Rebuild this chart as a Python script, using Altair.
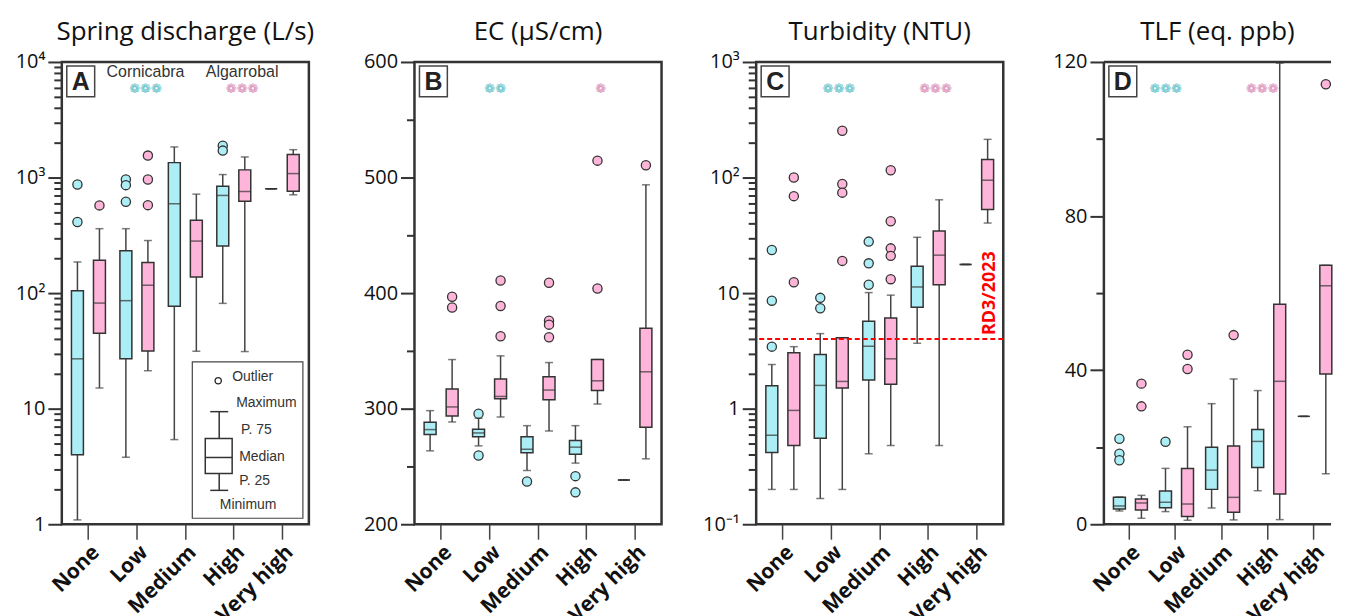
import altair as alt
import pandas as pd

CATS = ["None", "Low", "Medium", "High", "Very high"]
GROUPS = ["Cornicabra", "Algarrobal"]
CYAN = "#abeef5"
PINK = "#ffb5d9"

# ---- Panel A: spring discharge (L/s) ----
A_CORN_MIN = [1.09, 3.8, 5.4, 81.5, 799]
A_CORN_Q1 = [4.0, 27, 77, 256, 799]
A_CORN_MED = [27, 86, 593, 700, 799]
A_CORN_Q3 = [105, 232, 1346, 841, 799]
A_CORN_MAX = [186, 361, 1840, 1061, 799]
A_CORN_OUT = [[870, 412], [961, 859, 617], [], [1888, 1710], []]
A_ALG_MIN = [15.1, 21.3, 31.4, 31.2, 709]
A_ALG_Q1 = [45, 31.6, 138, 625, 762]
A_ALG_MED = [82, 117, 282, 757, 1082]
A_ALG_Q3 = [192, 184, 426, 1165, 1586]
A_ALG_MAX = [361, 285, 718, 1507, 1742]
A_ALG_OUT = [[574], [1549, 961, 577], [], [], []]

# ---- Panel B: EC (uS/cm) ----
B_CORN_MIN = [263.5, 267.8, 246.5, 252.9, 238.2]
B_CORN_Q1 = [277.6, 275.6, 261.8, 260.6, 238.2]
B_CORN_MED = [281.9, 279.0, 264.9, 266.7, 238.2]
B_CORN_Q3 = [288.2, 282.2, 275.6, 272.4, 238.2]
B_CORN_MAX = [298.3, 291.7, 285.3, 285.3, 238.2]
B_CORN_OUT = [[], [295.7, 259.5], [237.0], [241.6, 227.6], []]
B_ALG_MIN = [288.5, 292.8, 280.7, 304.0, 256.6]
B_ALG_Q1 = [293.7, 308.6, 307.8, 315.8, 283.9]
B_ALG_MED = [301.5, 310.6, 316.1, 324.1, 331.9]
B_ALG_Q3 = [317.0, 325.6, 327.6, 342.5, 369.5]
B_ALG_MAX = [342.5, 345.7, 339.9, 342.5, 493.7]
B_ALG_OUT = [[396.8, 387.6], [410.9, 388.8, 362.7], [408.9, 376.1, 372.7, 361.8], [514.6, 404.0], [510.6]]

# ---- Panel C: turbidity (NTU) ----
C_CORN_MIN = [0.2, 0.167, 0.407, 3.68, 17.7]
C_CORN_Q1 = [0.418, 0.555, 1.77, 7.53, 17.7]
C_CORN_MED = [0.589, 1.59, 3.47, 11.3, 17.7]
C_CORN_Q3 = [1.58, 2.94, 5.7, 17.1, 17.7]
C_CORN_MAX = [2.41, 4.46, 10.1, 30.4, 17.7]
C_CORN_OUT = [[23.6, 8.6, 3.44], [9.1, 7.4], [27.9, 18.1, 11.8], [], []]
C_ALG_MIN = [0.2, 0.2, 0.48, 0.48, 40.4]
C_ALG_Q1 = [0.48, 1.51, 1.63, 11.8, 53]
C_ALG_MED = [0.966, 1.72, 2.7, 21.3, 94.8]
C_ALG_Q3 = [3.04, 4.1, 6.1, 34.5, 143]
C_ALG_MAX = [3.44, 4.1, 9.6, 64.2, 214]
C_ALG_OUT = [[100, 69, 12.4], [254, 88, 74, 19], [115.6, 41.8, 24.4, 21, 13.2], [], []]
C_THRESHOLD = [4]

# ---- Panel D: TLF (eq. ppb) ----
D_CORN_MIN = [3.45, 3.28, 4.22, 8.7, 28.0]
D_CORN_Q1 = [3.97, 4.3, 9.05, 14.7, 28.0]
D_CORN_MED = [4.74, 5.7, 14.05, 21.5, 28.0]
D_CORN_Q3 = [7.0, 8.6, 20.0, 24.6, 28.0]
D_CORN_MAX = [7.06, 14.5, 31.3, 34.7, 28.0]
D_CORN_OUT = [[22.2, 18.3, 16.6], [21.4], [], [], []]
D_ALG_MIN = [1.55, 1.03, 1.12, 1.2, 13.1]
D_ALG_Q1 = [3.71, 1.98, 3.1, 7.84, 39.0]
D_ALG_MED = [5.52, 5.25, 6.98, 37.1, 61.9]
D_ALG_Q3 = [6.55, 14.5, 20.3, 57.1, 67.2]
D_ALG_MAX = [7.5, 25.3, 37.7, 119.7, 67.2]
D_ALG_OUT = [[36.5, 30.6], [44.0, 40.3], [49.1], [], [114.2]]

W, H = 248, 464
WD = 228
ONE = pd.DataFrame({"k": [0]})
FRAME = "#333"


def log_values(lo_exp, hi_exp):
    vals = []
    for e in range(lo_exp, hi_exp):
        for k in range(1, 10):
            vals.append(round(k * 10 ** e, 6))
    vals.append(round(10 ** hi_exp, 6))
    return vals


def make_panel(title, letter, corn, alg, scale, values, majors, label_map,
               stars, extra=None, width=W, xrange=None, open_right=False):
    rows, orows = [], []
    for g, st in ((GROUPS[0], corn), (GROUPS[1], alg)):
        mn, q1, md, q3, mx, outs = st
        for i, c in enumerate(CATS):
            rows.append({"cat": c, "grp": g, "lo": mn[i], "q1": q1[i],
                         "med": md[i], "q3": q3[i], "hi": mx[i]})
            for v in outs[i]:
                orows.append({"cat": c, "grp": g, "val": v})
    df = pd.DataFrame(rows)
    odf = pd.DataFrame(orows)

    major_arr = "[" + ",".join(repr(m) for m in majors) + "]"
    expr = ""
    for m, lab in label_map:
        expr += f"datum.value=={m!r}?'{lab}':"
    expr += "''"
    yaxis = alt.Axis(values=values, labelExpr=expr, labelOverlap=False,
                     tickSize={"condition": {"test": f"indexof({major_arr}, datum.value) >= 0",
                                             "value": 14}, "value": 8},
                     tickWidth=2, tickColor="#333", domain=False, grid=False,
                     labelFont="Open Sans", labelFontSize=20, labelColor="#111",
                     labelPadding=3, title=None)

    def Y(field):
        return alt.Y(f"{field}:Q", scale=scale, axis=yaxis, title=None)

    xs = dict(paddingInner=0, paddingOuter=0.05)
    if xrange:
        xs["range"] = xrange
    X = alt.X("cat:N", sort=CATS,
              scale=alt.Scale(**xs),
              axis=alt.Axis(title=None, labelAngle=315, labelAlign="right",
                            labelBaseline="top", labelFont="Open Sans",
                            labelFontWeight="bold", labelFontSize=21,
                            labelColor="#111", labelPadding=2, tickSize=15,
                            tickColor="#444", tickWidth=1.5, domain=False,
                            grid=False))
    XO = alt.XOffset("grp:N", sort=GROUPS,
                     scale=alt.Scale(paddingOuter=0.1, paddingInner=0))
    col = alt.Color("grp:N", scale=alt.Scale(domain=GROUPS, range=[CYAN, PINK]), legend=None)
    fil = alt.Fill("grp:N", scale=alt.Scale(domain=GROUPS, range=[CYAN, PINK]), legend=None)

    base = alt.Chart(df).encode(x=X, xOffset=XO)
    layers = [
        base.mark_rule(color="#444", strokeWidth=1.5).encode(y=Y("lo"), y2="hi"),
        base.mark_tick(color="#444", thickness=1.5, size=8).encode(y=Y("lo")),
        base.mark_tick(color="#444", thickness=1.5, size=8).encode(y=Y("hi")),
        base.mark_bar(size=12, stroke="#333", strokeWidth=1.5).encode(y=Y("q1"), y2="q3", color=col),
        base.mark_tick(color="#333", thickness=1.5, size=12).encode(y=Y("med")),
        alt.Chart(odf).mark_point(shape="circle", filled=True, size=85, stroke="#333",
                                  strokeWidth=1.3, opacity=1).encode(
            x=X, xOffset=XO, y=Y("val"), fill=fil),
    ]
    if extra:
        layers += extra(Y)
    if open_right:
        for x1, x2, y1, y2 in ((0, width, 0, 0), (0, width, H, H), (0, 0, 0, H)):
            layers.append(alt.Chart(ONE).mark_rule(color=FRAME, strokeWidth=2.5).encode(
                x=alt.value(x1), x2=alt.value(x2), y=alt.value(y1), y2=alt.value(y2)))
    # panel letter
    layers.append(alt.Chart(ONE).mark_rect(fill="white", stroke="#444", strokeWidth=1.5).encode(
        x=alt.value(5), x2=alt.value(33), y=alt.value(4), y2=alt.value(35)))
    layers.append(alt.Chart(ONE).mark_text(text=letter, font="Liberation Sans", fontWeight="bold",
                                           fontSize=25, align="center", baseline="middle",
                                           color="#222").encode(
        x=alt.value(19), y=alt.value(20.5)))
    for txt, colr, px in stars:
        layers.append(alt.Chart(ONE).mark_text(text=txt, color=colr, fontSize=13,
                                               font="DejaVu Sans", align="center",
                                               baseline="middle").encode(
            x=alt.value(px), y=alt.value(27)))
    props = dict(width=width, height=H,
                 title=alt.TitleParams(title, fontSize=26, font="Open Sans", fontWeight="normal",
                                       color="#111", offset=7, frame="group"))
    if open_right:
        props["view"] = alt.ViewBackground(strokeWidth=0)
    return alt.layer(*layers).properties(**props)


STAR_C = "#5bbfc9"
STAR_P = "#d98ab5"
SYM = "\u2741"


def legend_A(Y):
    t = "#333"
    L = []
    L.append(alt.Chart(ONE).mark_text(text="Cornicabra", font="Liberation Sans", fontSize=16,
                                      color=t, align="center", baseline="middle").encode(
        x=alt.value(84), y=alt.value(10)))
    L.append(alt.Chart(ONE).mark_text(text="Algarrobal", font="Liberation Sans", fontSize=16,
                                      color=t, align="center", baseline="middle").encode(
        x=alt.value(181), y=alt.value(10)))
    L.append(alt.Chart(ONE).mark_rect(fill="white", stroke="#444", strokeWidth=1.2).encode(
        x=alt.value(131), x2=alt.value(242), y=alt.value(301), y2=alt.value(458)))
    L.append(alt.Chart(ONE).mark_point(shape="circle", filled=False, size=40, stroke="#222",
                                       strokeWidth=1.3, opacity=1).encode(
        x=alt.value(157), y=alt.value(320)))
    for txt, px, py, al in (("Outlier", 171, 316, "left"), ("Maximum", 175, 342, "left"),
                            ("P. 75", 180, 369, "left"), ("Median", 178, 397, "left"),
                            ("P. 25", 178, 421, "left"), ("Minimum", 187, 445, "center")):
        L.append(alt.Chart(ONE).mark_text(text=txt, font="Liberation Sans", fontSize=14,
                                          color=t, align=al, baseline="middle").encode(
            x=alt.value(px), y=alt.value(py)))
    for x1, x2, y1, y2 in ((149, 167, 351, 351), (158, 158, 351, 378), (144, 171, 397, 397),
                           (158, 158, 413, 430), (149, 167, 430, 430)):
        L.append(alt.Chart(ONE).mark_rule(color="#333", strokeWidth=1.5).encode(
            x=alt.value(x1), x2=alt.value(x2), y=alt.value(y1), y2=alt.value(y2)))
    L.append(alt.Chart(ONE).mark_rect(fill="white", fillOpacity=0, stroke="#333", strokeWidth=1.5).encode(
        x=alt.value(144), x2=alt.value(171), y=alt.value(378), y2=alt.value(413)))
    return L


def threshold_C(Y):
    tdf = pd.DataFrame({"v": C_THRESHOLD})
    return [
        alt.Chart(tdf).mark_rule(color="#ff0000", strokeDash=[5, 3], strokeWidth=2).encode(y=Y("v")),
        alt.Chart(tdf).mark_text(text="RD3/2023", color="#ff0000", font="Open Sans",
                                 fontWeight="bold", fontSize=18, angle=270, align="left",
                                 baseline="middle", dx=4).encode(
            y=Y("v"), x=alt.value(235)),
    ]


A = make_panel("Spring discharge (L/s)", "A",
               (A_CORN_MIN, A_CORN_Q1, A_CORN_MED, A_CORN_Q3, A_CORN_MAX, A_CORN_OUT),
               (A_ALG_MIN, A_ALG_Q1, A_ALG_MED, A_ALG_Q3, A_ALG_MAX, A_ALG_OUT),
               alt.Scale(type="log", domain=[1, 10000]),
               log_values(0, 4), [1, 10, 100, 1000, 10000],
               [(1, "1"), (10, "10"), (100, "10²"), (1000, "10³"), (10000, "10⁴")],
               [(SYM * 3, STAR_C, 84), (SYM * 3, STAR_P, 181)], extra=legend_A)

B = make_panel("EC (µS/cm)", "B",
               (B_CORN_MIN, B_CORN_Q1, B_CORN_MED, B_CORN_Q3, B_CORN_MAX, B_CORN_OUT),
               (B_ALG_MIN, B_ALG_Q1, B_ALG_MED, B_ALG_Q3, B_ALG_MAX, B_ALG_OUT),
               alt.Scale(domain=[200, 600], nice=False, zero=False),
               list(range(200, 601, 50)), [200, 300, 400, 500, 600],
               [(200, "200"), (300, "300"), (400, "400"), (500, "500"), (600, "600")],
               [(SYM * 2, STAR_C, 81), (SYM, STAR_P, 187)])

C = make_panel("Turbidity (NTU)", "C",
               (C_CORN_MIN, C_CORN_Q1, C_CORN_MED, C_CORN_Q3, C_CORN_MAX, C_CORN_OUT),
               (C_ALG_MIN, C_ALG_Q1, C_ALG_MED, C_ALG_Q3, C_ALG_MAX, C_ALG_OUT),
               alt.Scale(type="log", domain=[0.1, 1000]),
               log_values(-1, 3), [0.1, 1, 10, 100, 1000],
               [(0.1, "10⁻¹"), (1, "1"), (10, "10"), (100, "10²"), (1000, "10³")],
               [(SYM * 3, STAR_C, 83), (SYM * 3, STAR_P, 180)], extra=threshold_C)

D = make_panel("TLF (eq. ppb)", "D",
               (D_CORN_MIN, D_CORN_Q1, D_CORN_MED, D_CORN_Q3, D_CORN_MAX, D_CORN_OUT),
               (D_ALG_MIN, D_ALG_Q1, D_ALG_MED, D_ALG_Q3, D_ALG_MAX, D_ALG_OUT),
               alt.Scale(domain=[0, 120], nice=False),
               list(range(0, 121, 20)), [0, 40, 80, 120],
               [(0, "0"), (40, "40"), (80, "80"), (120, "120")],
               [(SYM * 3, STAR_C, 62), (SYM * 3, STAR_P, 159)],
               width=WD, xrange=[0, 236], open_right=True)

chart = alt.hconcat(
    alt.hconcat(A, B, spacing=46),
    alt.hconcat(C, D, spacing=46),
    spacing=37,
).properties(background="white",
             padding={"left": 5, "top": 8, "right": 0, "bottom": 5}).configure_view(
    stroke=FRAME, strokeWidth=2.5)

chart.save("out.html", embed_options={"renderer": "svg", "actions": False})
